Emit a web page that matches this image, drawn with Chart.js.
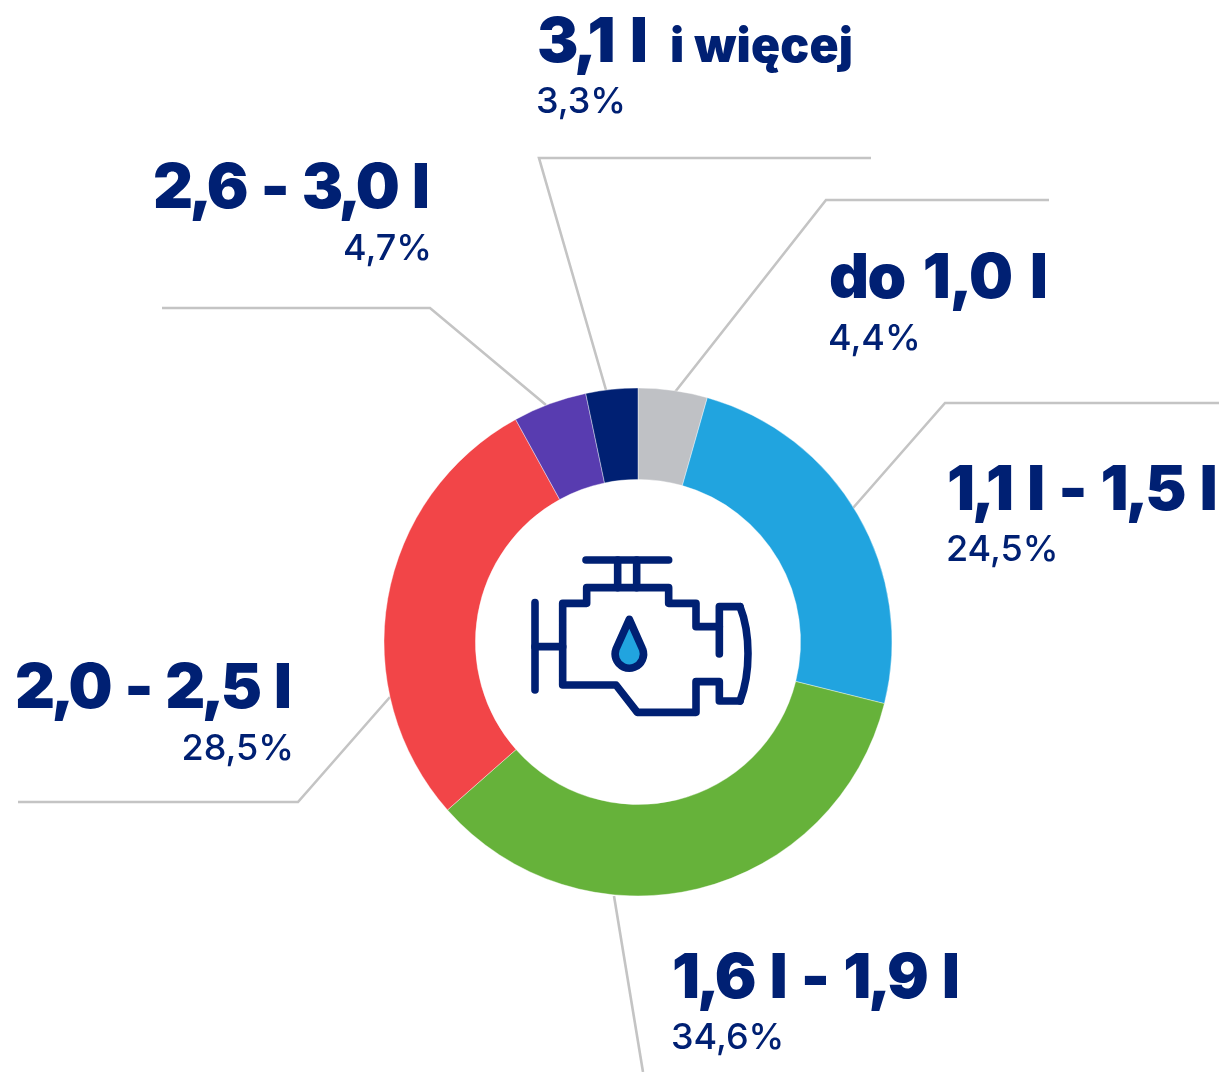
<!DOCTYPE html>
<html lang="pl"><head><meta charset="utf-8">
<style>html,body{margin:0;padding:0;background:#fff}canvas{display:block}</style>
<script src="https://cdn.jsdelivr.net/npm/chart.js@4"></script>
</head><body><canvas id="c" width="1224" height="1072"></canvas>
<script>
const categories = ["do 1,0 l","1,1 l - 1,5 l","1,6 l - 1,9 l","2,0 - 2,5 l","2,6 - 3,0 l","3,1 l i więcej"];
const values = [4.4,24.5,34.6,28.5,4.7,3.3];
const percentLabels = ["4,4%","24,5%","34,6%","28,5%","4,7%","3,3%"];
const colors = ["#bfc1c5","#21a4df","#66b23a","#f24548","#583cb0","#002073"];
const NAVY="#002073", FONT='Inter, "Open Sans", sans-serif';
// label anchor: x, align, title baseline, percent baseline, title width
const labelPos = [
 [829,"left",298,350,219],[947,"left",510,561,271],[672,"left",998,1049,288],
 [292,"right",708,760,277],[430,"right",208,260,277],[537,"left",62,113,111]];
const leaders = [
 [[1049,200],[826,200],[675,392]],
 [[1219,403],[945,403],[853,508]],
 [[614,896],[643,1072]],
 [[18,802],[298,802],[390,697]],
 [[162,308],[430,308],[546,405]],
 [[871,158],[539,158],[606,390]]];

function fitText(x,t,px,y,w,al,ws){
  x.letterSpacing="0px"; x.wordSpacing=ws+"px";
  const m=x.measureText(t).width, ls=(w-m)/(t.length-1);
  x.letterSpacing=ls.toFixed(2)+"px";
  x.textAlign="left";
  x.fillText(t,al==="right"?px-w:px,y);
  x.letterSpacing="0px"; x.wordSpacing="0px";
}
const decor = {
 id:"decor",
 beforeDatasetsDraw(ch){
  const x=ch.ctx; x.save(); x.strokeStyle="#c4c4c4"; x.lineWidth=2.6; x.lineJoin="miter";
  leaders.forEach(l=>{x.beginPath();l.forEach((p,i)=>i?x.lineTo(p[0],p[1]):x.moveTo(p[0],p[1]));x.stroke();});
  x.restore();
 },
 afterDatasetsDraw(ch){
  const x=ch.ctx; x.save(); x.fillStyle=NAVY; x.textBaseline="alphabetic";
  categories.forEach((c,i)=>{
   const [px,al,b1,b2,w]=labelPos[i];
   if(i===5){
     x.font="900 62px "+FONT; fitText(x,"3,1 l",px,b1,w,al,9);
     x.font="900 48px "+FONT; fitText(x,"i więcej",670,b1,183,"left",0);
   } else { x.font="900 62px "+FONT; fitText(x,c,px,b1,w,al,7); }
   x.font="500 36px "+FONT; x.textAlign=al;
   x.fillText(percentLabels[i],al==="right"?px+2:px-1,b2);
  });
  // engine icon, relative to the doughnut centre
  const m=ch.getDatasetMeta(0).data[0], ox=m.x-638+510, oy=m.y-642+540, s=1/3;
  const P=(a,b)=>[ox+a*s,oy+b*s];
  const line=(pts)=>{x.beginPath();pts.forEach((p,i)=>{const q=P(p[0],p[1]);i?x.lineTo(q[0],q[1]):x.moveTo(q[0],q[1]);});x.stroke();};
  x.strokeStyle=NAVY; x.lineWidth=7.6; x.lineCap="round"; x.lineJoin="round";
  line([[228,60],[476,60]]); line([[323,60],[323,143]]); line([[380,60],[380,143]]);
  line([[628,342],[628,200],[690,200]]);
  line([[628,260],[558,260],[558,190],[476,190],[476,143],[230,143],[230,190],[158,190],[158,435],[318,435],[382,517],[558,517],[558,425],[628,425],[628,483],[690,483]]);
  line([[75,188],[75,450]]); line([[75,320],[158,320]]);
  let a=P(690,200),c1=P(722,280),c2=P(722,400),b=P(690,483);
  x.beginPath();x.moveTo(a[0],a[1]);x.bezierCurveTo(c1[0],c1[1],c2[0],c2[1],b[0],b[1]);x.stroke();
  // oil drop
  const t=P(358,238),cc=P(358,342);
  x.beginPath();x.moveTo(t[0],t[1]);x.lineTo(cc[0]+13.2,cc[1]-5);
  x.arc(cc[0],cc[1],14.2,-0.36,Math.PI+0.36);x.closePath();
  x.fillStyle="#21a4df";x.fill();x.stroke();
  x.restore();
 }
};
new Chart(document.getElementById("c"),{
 type:"doughnut",
 data:{labels:categories,datasets:[{data:values,backgroundColor:colors,borderColor:"#ffffff",borderWidth:0.4}]},
 options:{responsive:false,animation:false,cutout:"64%",
  layout:{padding:{left:383.8,right:331.8,top:387.8,bottom:175.8}},
  plugins:{legend:{display:false},tooltip:{enabled:false}}},
 plugins:[decor]
});
</script></body></html>
